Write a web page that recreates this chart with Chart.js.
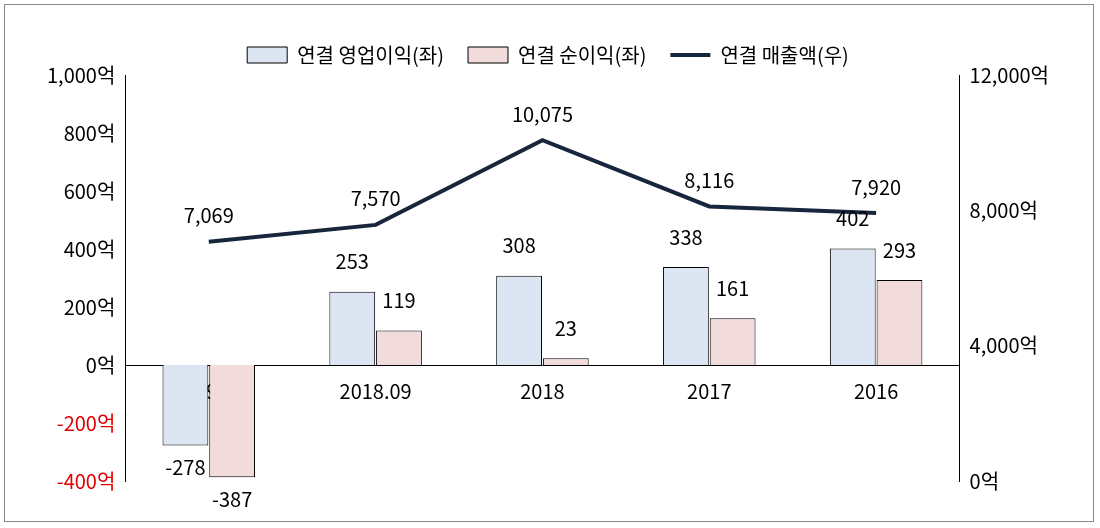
<!DOCTYPE html><html><head><meta charset="utf-8">
<script src="https://cdn.jsdelivr.net/npm/chart.js@4"></script>
<style>body{margin:0;background:#fff}#w{position:absolute;left:4px;top:4px;width:1090px;height:518px;border:1px solid #888;box-sizing:border-box}</style>
</head><body><div id="w"><canvas id="c"></canvas></div>
<script>
const categories=['2019.09','2018.09','2018','2017','2016'];
const opProfit=[-278,253,308,338,402];
const netProfit=[-387,119,23,161,293];
const revenue=[7069,7570,10075,8116,7920];
const leftTicks=[-400,-200,0,200,400,600,800,1000];
const rightTicks=[0,4000,8000,12000];
const F='"Noto Sans CJK KR","Noto Sans",sans-serif';
const fmt=v=>v.toLocaleString('en-US');
const labels={id:'lbl',afterDatasetsDraw(ch){const c=ch.ctx;c.save();c.font='20px '+F;c.fillStyle='#000';c.textAlign='center';
ch.data.datasets.forEach((ds,i)=>{ch.getDatasetMeta(i).data.forEach((el,j)=>{const v=ds.data[j];let y;
if(ds.type==='line'){y=el.y-26;}else{y=v>=0?el.y-30:el.y+22;}
c.textBaseline='middle';c.fillText(fmt(v),el.x,y);});});c.restore();}};
Chart.defaults.font.family=F;Chart.defaults.color='#000';
new Chart(document.getElementById('c'),{type:'bar',data:{labels:categories,datasets:[
{label:'연결 매출액(우)',type:'line',data:revenue,yAxisID:'y2',borderColor:'#17253d',backgroundColor:'#17253d',borderWidth:4,pointRadius:0,order:0,pointStyle:'line'},
{label:'연결 영업이익(좌)',data:opProfit,yAxisID:'y',backgroundColor:'#dce6f2',borderColor:'#000',borderWidth:1,categoryPercentage:0.56,barPercentage:0.98,order:1,pointStyle:'rect'},
{label:'연결 순이익(좌)',data:netProfit,yAxisID:'y',backgroundColor:'#f2dcdb',borderColor:'#000',borderWidth:1,categoryPercentage:0.56,barPercentage:0.98,order:1,pointStyle:'rect'}]},
options:{responsive:true,maintainAspectRatio:false,animation:false,layout:{padding:{left:38,right:40,top:16,bottom:40}},
plugins:{tooltip:{enabled:false},legend:{position:'top',labels:{usePointStyle:true,pointStyleWidth:40,boxWidth:40,boxHeight:16,font:{size:20},padding:24,
sort:(a,b)=>[1,2,0].indexOf(a.datasetIndex)-[1,2,0].indexOf(b.datasetIndex)}}},
scales:{x:{position:{y:0},z:1,grid:{display:false,drawTicks:false},border:{color:'#000'},ticks:{font:{size:20},padding:14}},
y:{min:-400,max:1000,afterBuildTicks:a=>{a.ticks=leftTicks.map(v=>({value:v}))},grid:{display:false,drawTicks:true,tickLength:6},border:{color:'#000'},
ticks:{font:{size:20},padding:4,color:c=>c.tick.value<0?'#e00000':'#000',callback:v=>fmt(v)+'억'}},
y2:{position:'right',min:0,max:12000,afterBuildTicks:a=>{a.ticks=rightTicks.map(v=>({value:v}))},grid:{display:false,tickLength:6},border:{color:'#000'},
ticks:{font:{size:20},padding:4,callback:v=>fmt(v)+'억'}}}},plugins:[labels]});
</script></body></html>
